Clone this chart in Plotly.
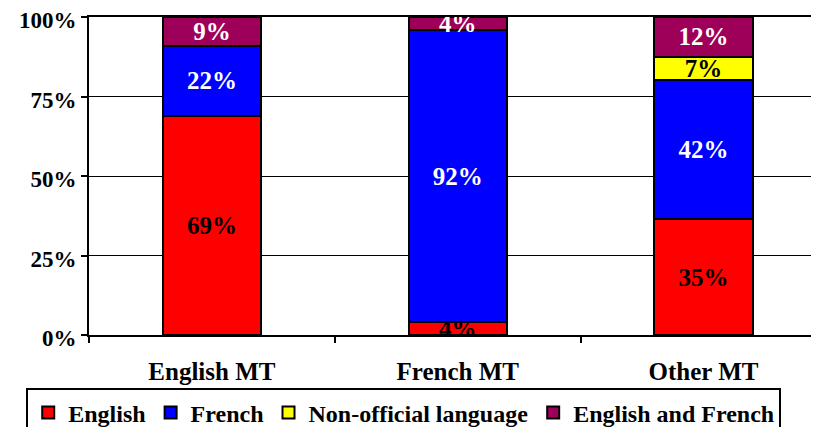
import plotly.graph_objects as go

categories = ["English MT", "French MT", "Other MT"]
series_names = ["English", "French", "Non-official language", "English and French"]
english = [69, 4, 35]
french = [22, 92, 42]
non_official = [None, None, 7]
english_french = [9, 4, 12]
y_ticks = [0, 25, 50, 75, 100]

series_values = [english, french, non_official, english_french]
fill_colors = ["#FF0000", "#0000FF", "#FFFF00", "#9E0059"]
text_colors = ["black", "white", "black", "white"]

font_family = "Liberation Serif"

fig = go.Figure()
for name, vals, fill, tc in zip(series_names, series_values, fill_colors, text_colors):
    fig.add_trace(go.Bar(
        name=name, x=categories, y=vals,
        text=[f"{v}%" if v else "" for v in vals],
        textposition="inside", insidetextanchor="middle",
        textfont=dict(family=font_family, size=25, color=tc, weight="bold"),
        marker=dict(color=fill, line=dict(color="black", width=2)),
        width=0.4,
    ))

# page body has an 8px margin, so the figure is shrunk by that much
fig.update_layout(
    barmode="stack", barnorm="percent",
    width=811, height=419,
    margin=dict(l=81, r=0, t=9, b=92, autoexpand=False),
    plot_bgcolor="white", paper_bgcolor="white",
    uniformtext=dict(minsize=25, mode="show"),
    font=dict(family=font_family, size=24, color="black", weight="bold"),
    showlegend=True,
    legend=dict(
        orientation="h", x=-0.086, xanchor="left", y=-0.168, yanchor="top",
        bordercolor="black", borderwidth=2, traceorder="normal",
        font=dict(family=font_family, size=24, color="black", weight="bold"),
        itemwidth=30, tracegroupgap=0,
    ),
    xaxis=dict(
        range=[-0.5, 2.47], showline=True, linecolor="black", linewidth=2, mirror=True,
        ticks="outside", tickson="boundaries", ticklen=6, tickcolor="black", tickwidth=2,
        ticklabelstandoff=13, showgrid=False,
        tickfont=dict(family=font_family, size=25, color="black", weight="bold"),
    ),
    yaxis=dict(
        range=[0, 100], tickmode="array", tickvals=y_ticks,
        ticktext=[f"{t}%" for t in y_ticks], ticklabeloverflow="allow",
        ticklabelshift=3,
        showline=True, linecolor="black", linewidth=2,
        ticks="outside", ticklen=6, tickcolor="black", tickwidth=2,
        showgrid=True, gridcolor="black", gridwidth=1, zeroline=False,
        tickfont=dict(family=font_family, size=23, color="black", weight="bold"),
    ),
)

fig.write_html("out.html")
